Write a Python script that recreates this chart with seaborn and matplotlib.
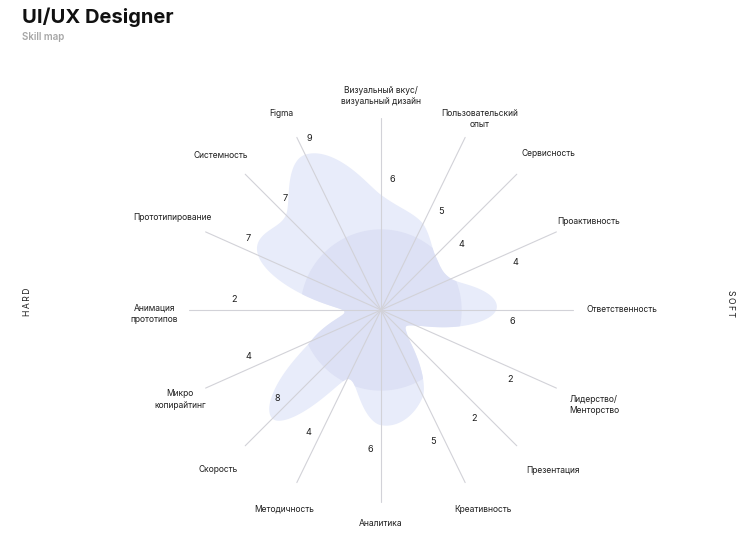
import numpy as np
import pandas as pd
import matplotlib
matplotlib.use("Agg")
import matplotlib.pyplot as plt
import seaborn as sns
from matplotlib.patches import Polygon

# ---- data ----
skills = ["Визуальный вкус/\nвизуальный дизайн", "Пользовательский\nопыт", "Сервисность",
          "Проактивность", "Ответственность", "Лидерство/\nМенторство", "Презентация",
          "Креативность", "Аналитика", "Методичность", "Скорость", "Микро\nкопирайтинг",
          "Анимация\nпрототипов", "Прототипирование", "Системность", "Figma"]
values = [6, 5, 4, 4, 6, 2, 2, 5, 6, 4, 8, 4, 2, 7, 7, 9]
max_value = 10
core_level = 4.2
title = "UI/UX Designer"
subtitle = "Skill map"
side_left = "HARD"
side_right = "SOFT"

# ---- layout (pixel space) ----
W, H = 751, 535
cx, cy = 381, 310
R = 192
spoke_deg = [0, 26, 45, 66, 90, 114, 135, 154, 180, 206, 225, 246, 270, 294, 315, 334]
label_deg = [0, 27.4, 47, 67, 90, 114, 133, 153, 180, 206, 225.5, 246, 269, 294, 314, 333]
label_r = [214, 215, 229, 226, 241, 233, 235, 224, 213, 221, 228, 220, 227, 228, 223, 220]
number_r = [131, 115, 103, 142, 131, 146, 143, 141, 140, 142, 136, 140, 147, 150, 146, 186]
number_off = 11

sns.set_theme(style="white")
plt.rcParams["font.family"] = ["Inter", "DejaVu Sans"]

fig = plt.figure(figsize=(W / 100, H / 100), dpi=100)
ax = fig.add_axes([0, 0, 1, 1])

th = np.deg2rad(spoke_deg)
ux, uy = np.sin(th), -np.cos(th)
n = len(values)

# blob: smooth closed curve in polar coords through value radii (Catmull-Rom)
rv = np.array(values) / max_value * R
ang = np.array(spoke_deg, dtype=float)
curve_t, curve_r = [], []
ts = np.linspace(0, 1, 60, endpoint=False)
for i in range(n):
    r0, r1, r2, r3 = rv[i - 1], rv[i], rv[(i + 1) % n], rv[(i + 2) % n]
    a1 = ang[i]
    a2 = ang[(i + 1) % n] + (360 if i == n - 1 else 0)
    for t in ts:
        t2, t3 = t * t, t * t * t
        r = 0.5 * ((2 * r1) + (-r0 + r2) * t + (2 * r0 - 5 * r1 + 4 * r2 - r3) * t2
                   + (-r0 + 3 * r1 - 3 * r2 + r3) * t3)
        curve_t.append(np.deg2rad(a1 + (a2 - a1) * t))
        curve_r.append(r)
curve_t = np.array(curve_t)
curve_r = np.array(curve_r)
bx = cx + curve_r * np.sin(curve_t)
by = cy - curve_r * np.cos(curve_t)
ax.add_patch(Polygon(np.column_stack([bx, by]), closed=True, facecolor="#E8ECFA",
                     edgecolor="none", zorder=1))
# core: intersection of blob with a circle
rc = np.minimum(curve_r, core_level / max_value * R)
ax.add_patch(Polygon(np.column_stack([cx + rc * np.sin(curve_t), cy - rc * np.cos(curve_t)]),
                     closed=True, facecolor="#DDE1F5", edgecolor="none", zorder=2))

# spokes
rows = []
for i in range(n):
    rows.append({"x": cx, "y": cy, "spoke": i})
    rows.append({"x": cx + R * ux[i], "y": cy + R * uy[i], "spoke": i})
df = pd.DataFrame(rows)
sns.lineplot(data=df, x="x", y="y", units="spoke", estimator=None, sort=False,
             color="#D2D2D8", linewidth=0.8, ax=ax, zorder=3, legend=False)
ax.set_xlim(0, W)
ax.set_ylim(H, 0)
ax.axis("off")

# labels and numbers
for i, s in enumerate(skills):
    la = np.deg2rad(label_deg[i])
    ax.text(cx + label_r[i] * np.sin(la), cy - label_r[i] * np.cos(la), s,
            ha="center", va="center", fontsize=6.1, color="#1E1E1E", linespacing=1.3, zorder=5)
    px, py = -uy[i], ux[i]
    ax.text(cx + number_r[i] * ux[i] + number_off * px,
            cy + number_r[i] * uy[i] + number_off * py,
            str(values[i]), ha="center", va="center", fontsize=6.6, color="#1E1E1E", zorder=5)

ax.text(22, 23, title, fontsize=14.5, fontweight="bold", color="#111111", va="baseline", ha="left")
ax.text(22, 40, subtitle, fontsize=7, fontweight="semibold", color="#A6A6A6", va="baseline", ha="left")
ax.text(28, 302, "\u2009".join(side_left), rotation=90, ha="center", va="center",
        fontsize=6.2, color="#1E1E1E")
ax.text(731, 303, "\u2009".join(side_right), rotation=-90, ha="center", va="center",
        fontsize=6.2, color="#1E1E1E")

fig.savefig("out.png", dpi=100)
